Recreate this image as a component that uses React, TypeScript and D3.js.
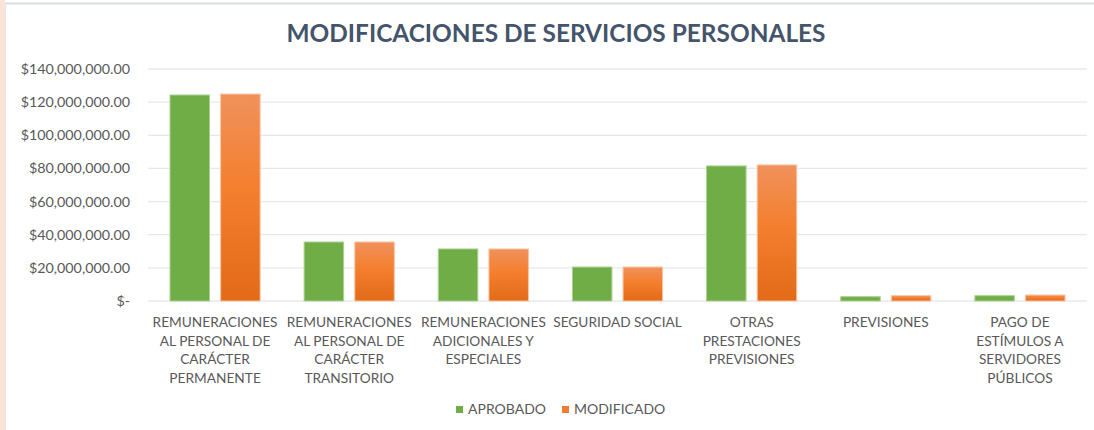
import React from 'react';
import * as d3 from 'd3';

const categories = [
  ['REMUNERACIONES', 'AL PERSONAL DE', 'CARÁCTER', 'PERMANENTE'],
  ['REMUNERACIONES', 'AL PERSONAL DE', 'CARÁCTER', 'TRANSITORIO'],
  ['REMUNERACIONES', 'ADICIONALES Y', 'ESPECIALES'],
  ['SEGURIDAD SOCIAL'],
  ['OTRAS', 'PRESTACIONES', 'PREVISIONES'],
  ['PREVISIONES'],
  ['PAGO DE', 'ESTÍMULOS A', 'SERVIDORES', 'PÚBLICOS'],
];
const aprobado = [124300000, 35600000, 31400000, 20500000, 81500000, 2600000, 3200000];
const modificado = [124900000, 35600000, 31400000, 20500000, 82100000, 3200000, 3600000];
const seriesNames = ['APROBADO', 'MODIFICADO'];
const yTicks = [0, 20000000, 40000000, 60000000, 80000000, 100000000, 120000000, 140000000];

const W = 1094;
const H = 430;
const font = 'Lato, "Open Sans", sans-serif';
const textColor = '#595959';

const fmt = (v: number) => (v === 0 ? '$-' : '$' + d3.format(',.2f')(v));

export default function App() {
  const left = 148;
  const right = 1087;
  const top = 69;
  const bottom = 301;

  const x = d3.scaleBand<number>().domain(d3.range(categories.length)).range([left, right]).paddingInner(0).paddingOuter(0);
  const y = d3.scaleLinear().domain([0, 140000000]).range([bottom, top]);
  const inner = d3.scaleBand<number>().domain([0, 1]).range([22, x.bandwidth() - 22]).paddingInner(0.22);

  return (
    <div style={{ position: 'absolute', left: 0, top: 0 }}>
      <svg width={W} height={H} style={{ display: 'block' }}>
        <defs>
          <linearGradient id="og" x1="0" y1="0" x2="0" y2="1">
            <stop offset="0%" stopColor="#f0915c" />
            <stop offset="45%" stopColor="#f47f2e" />
            <stop offset="100%" stopColor="#e26a18" />
          </linearGradient>
        </defs>
        <rect x={0} y={0} width={W} height={H} fill="#ffffff" />
        <rect x={0} y={0} width={5} height={H} fill="#fbe3d6" />
        <line x1={5} x2={W} y1={3.5} y2={3.5} stroke="#d9dde2" strokeWidth={2} />
        <line x1={5.5} x2={5.5} y1={3} y2={H} stroke="#e3e6ea" strokeWidth={1} />

        <text x={556} y={42} textAnchor="middle" fontFamily={font} fontWeight={700} fontSize={24} fill="#44546a" textLength={539} lengthAdjust="spacingAndGlyphs">
          MODIFICACIONES DE SERVICIOS PERSONALES
        </text>

        {yTicks.map((t) => (
          <g key={t}>
            <line x1={left} x2={right} y1={y(t)} y2={y(t)} stroke="#e6e8ee" strokeWidth={1.3} />
            <text x={130} y={y(t) + 5} textAnchor="end" fontFamily={font} fontSize={14.3} fill={textColor}>
              {fmt(t)}
            </text>
          </g>
        ))}

        {categories.map((c, i) => (
          <g key={i}>
            {[aprobado[i], modificado[i]].map((v, s) => (
              <rect
                key={s}
                x={(x(i) as number) + (inner(s) as number)}
                y={y(v)}
                width={inner.bandwidth()}
                height={bottom - y(v)}
                fill={s === 0 ? '#70ad47' : 'url(#og)'}
                stroke={s === 0 ? '#a9d18e' : '#f8c3a0'}
                strokeWidth={1}
              />
            ))}
            <text textAnchor="middle" fontFamily={font} fontSize={13.7} fill={textColor}>
              {c.map((line, k) => (
                <tspan key={k} x={(x(i) as number) + x.bandwidth() / 2} y={327 + k * 18.5}>
                  {line}
                </tspan>
              ))}
            </text>
          </g>
        ))}

        {seriesNames.map((n, s) => {
          const lx = s === 0 ? 456 : 562;
          return (
            <g key={n}>
              <rect x={lx} y={406} width={7} height={7} fill={s === 0 ? '#70ad47' : '#f07d2f'} />
              <text x={lx + 12} y={414} fontFamily={font} fontSize={14} fill={textColor}>
                {n}
              </text>
            </g>
          );
        })}
      </svg>
    </div>
  );
}
